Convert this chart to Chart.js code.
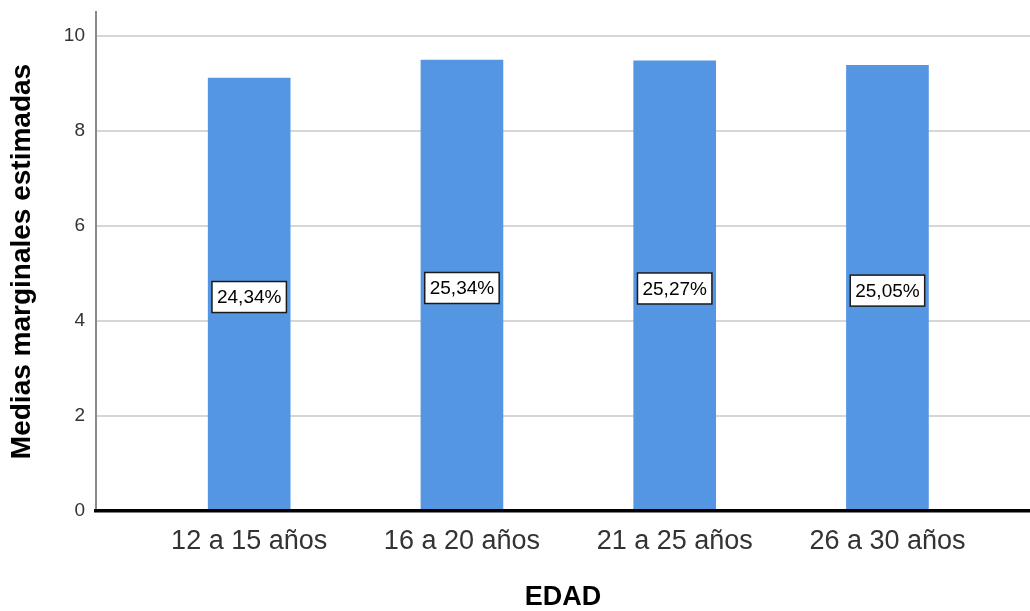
<!DOCTYPE html>
<html>
<head>
<meta charset="utf-8">
<script src="https://cdn.jsdelivr.net/npm/chart.js@4.4.1/dist/chart.umd.min.js"></script>
<style>
  html, body { margin: 0; padding: 0; background: #ffffff; }
  #wrap { width: 1030px; height: 611px; }
</style>
</head>
<body>
<div id="wrap"><canvas id="c" width="1030" height="611"></canvas></div>
<script>
// ---- data ----
const categories = ['12 a 15 años', '16 a 20 años', '21 a 25 años', '26 a 30 años'];
const means = [9.11, 9.49, 9.47, 9.38];
const percentLabels = ['24,34%', '25,34%', '25,27%', '25,05%'];
const yTicks = [0, 2, 4, 6, 8, 10];
const yTitle = 'Medias marginales estimadas';
const xTitle = 'EDAD';

const points = categories.map((c, i) => ({ x: i + 1, y: means[i] }));

const boxLabels = {
  id: 'boxLabels',
  afterDatasetsDraw(chart) {
    const ctx = chart.ctx;
    const meta = chart.getDatasetMeta(0);
    ctx.save();
    ctx.font = '19px "Liberation Sans", Arial, sans-serif';
    ctx.textAlign = 'center';
    ctx.textBaseline = 'middle';
    meta.data.forEach((bar, i) => {
      const txt = percentLabels[i];
      const cx = bar.x;
      const cy = (bar.y + bar.base) / 2 + 3;
      const w = ctx.measureText(txt).width + 10;
      const h = 31;
      ctx.fillStyle = '#ffffff';
      ctx.fillRect(cx - w / 2, cy - h / 2, w, h);
      ctx.strokeStyle = '#1a1a1a';
      ctx.lineWidth = 1.5;
      ctx.strokeRect(cx - w / 2, cy - h / 2, w, h);
      ctx.fillStyle = '#000000';
      ctx.fillText(txt, cx, cy + 1);
    });
    ctx.restore();
  }
};

new Chart(document.getElementById('c'), {
  type: 'bar',
  data: {
    datasets: [{
      data: points,
      backgroundColor: '#5596e3',
      borderWidth: 0,
      barThickness: 82
    }]
  },
  options: {
    responsive: false,
    animation: false,
    layout: { padding: { top: 12, left: 0, right: 0, bottom: 0 } },
    plugins: { legend: { display: false }, tooltip: { enabled: false } },
    scales: {
      x: {
        type: 'linear',
        offset: false,
        min: 0.28,
        max: 4.67,
        afterBuildTicks(scale) {
          scale.ticks = categories.map((c, i) => ({ value: i + 1 }));
        },
        afterFit(scale) {
          scale.height = 100;
          scale.paddingLeft = 0; scale.paddingRight = 0;
        },
        grid: { display: false, drawTicks: false, offset: false },
        border: { display: true, color: '#000000', width: 3.5, z: 1 },
        ticks: {
          autoSkip: false,
          maxRotation: 0,
          padding: 14,
          color: '#333333',
          font: { family: '"Liberation Sans", Arial, sans-serif', size: 27 },
          callback: (v) => categories[Math.round(v) - 1] || ''
        },
        title: {
          display: true,
          text: xTitle,
          color: '#000000',
          padding: { top: 0, bottom: 0 },
          font: { family: '"Liberation Sans", Arial, sans-serif', size: 27, weight: 'bold', lineHeight: 1 }
        }
      },
      y: {
        min: 0,
        max: 10.5,
        afterFit(scale) {
          scale.width = 96;
          scale.paddingTop = 0; scale.paddingBottom = 0;
        },
        afterBuildTicks(scale) {
          scale.ticks = yTicks.map(v => ({ value: v }));
        },
        grid: {
          drawTicks: false,
          lineWidth: 2,
          color: (ctx) => (ctx.tick && ctx.tick.value === 0) ? 'rgba(0,0,0,0)' : '#d6d6d6'
        },
        border: { display: true, color: '#8a8a8a', width: 2 },
        ticks: {
          padding: 11,
          color: '#333333',
          font: { family: '"Liberation Sans", Arial, sans-serif', size: 19 }
        },
        title: {
          display: true,
          text: yTitle,
          color: '#000000',
          padding: { top: 5, bottom: 0 },
          font: { family: '"Liberation Sans", Arial, sans-serif', size: 28, weight: 'bold', lineHeight: 1.2 }
        }
      }
    }
  },
  plugins: [boxLabels]
});
</script>
</body>
</html>
